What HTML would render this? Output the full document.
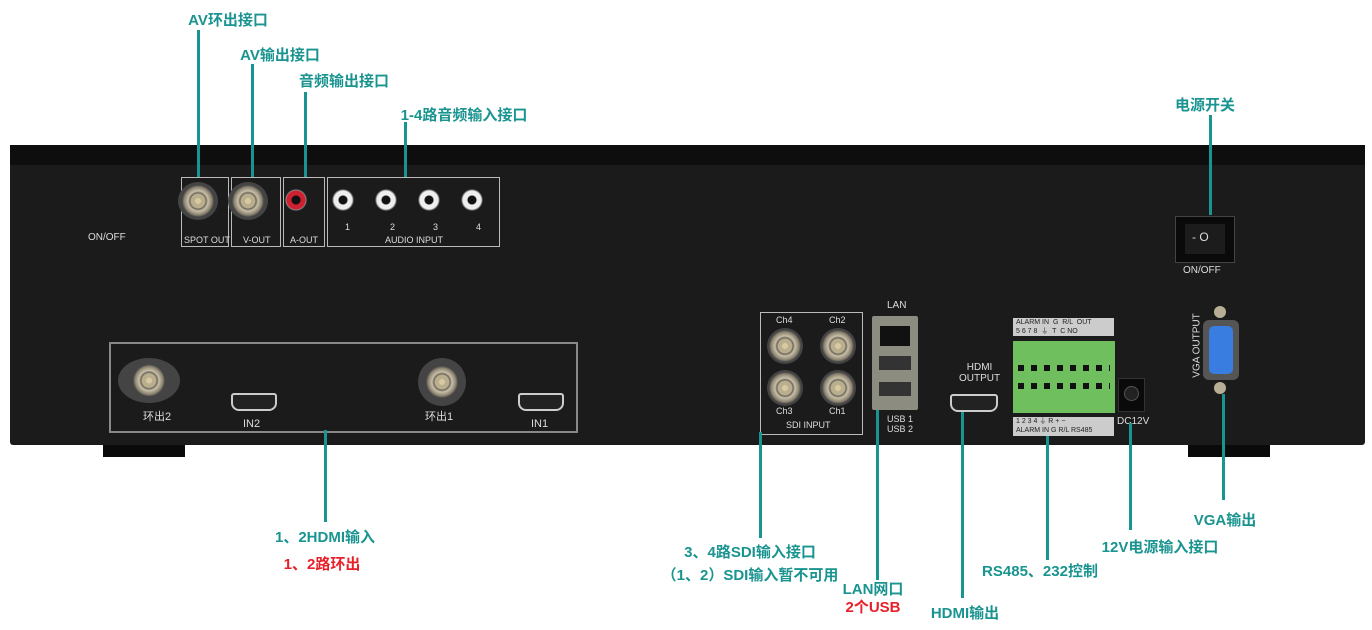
<!DOCTYPE html>
<html><head><meta charset="utf-8"><style>
body{margin:0;width:1372px;height:630px;background:#fff;position:relative;overflow:hidden;font-family:"Liberation Sans","Noto Sans CJK SC",sans-serif}
.a{position:absolute}
.l{position:absolute;background:#1a9490;width:3px}
.t{position:absolute;color:#1a9490;font-weight:bold;font-size:15px;white-space:nowrap;transform:translateX(-50%)}
.r{color:#e8202a}
.w{position:absolute;color:#ddd;font-size:9px;font-family:"Liberation Sans Narrow","Liberation Sans",sans-serif;white-space:nowrap}
.box{position:absolute;border:1.5px solid #bbb}
.bnc{position:absolute;border-radius:50%;background:radial-gradient(circle,#d8c9a0 0 3px,#b9ae8e 3px 7px,#6a6458 8px,#c8bfa8 10px,#8a8270 14px,#444 16px)}
.rca{position:absolute;border-radius:50%;width:22px;height:22px;background:radial-gradient(circle,#111 0 4px,#eee 5px 9px,#888 10px,#222 11px)}
.hdmi{position:absolute;width:42px;height:14px;background:#222;border:2px solid #ccc;border-radius:3px 3px 8px 8px}
</style></head><body>
<!-- device -->
<div class="a" style="left:10px;top:145px;width:1355px;height:300px;background:#1b1b1b;border-radius:3px"></div>
<div class="a" style="left:10px;top:145px;width:1355px;height:20px;background:#0e0e0e"></div>
<div class="a" style="left:103px;top:445px;width:82px;height:12px;background:#0a0a0a"></div>
<div class="a" style="left:1188px;top:445px;width:82px;height:12px;background:#0a0a0a"></div>
<div class="w" style="left:88px;top:232px;font-size:10px">ON/OFF</div>
<!-- top connectors -->
<div class="box" style="left:181px;top:177px;width:46px;height:68px"></div>
<div class="box" style="left:231px;top:177px;width:48px;height:68px"></div>
<div class="box" style="left:283px;top:177px;width:40px;height:68px"></div>
<div class="box" style="left:327px;top:177px;width:171px;height:68px"></div>
<div class="bnc" style="left:178px;top:182px;width:40px;height:38px"></div>
<div class="bnc" style="left:228px;top:182px;width:40px;height:38px"></div>
<div class="rca" style="left:285px;top:189px;background:radial-gradient(circle,#111 0 4px,#d02030 5px 9px,#888 10px,#222 11px)"></div>
<div class="rca" style="left:332px;top:189px"></div>
<div class="rca" style="left:375px;top:189px"></div>
<div class="rca" style="left:418px;top:189px"></div>
<div class="rca" style="left:461px;top:189px"></div>
<div class="w" style="left:184px;top:235px">SPOT OUT</div>
<div class="w" style="left:243px;top:235px">V-OUT</div>
<div class="w" style="left:290px;top:235px">A-OUT</div>
<div class="w" style="left:345px;top:222px">1</div><div class="w" style="left:390px;top:222px">2</div><div class="w" style="left:433px;top:222px">3</div><div class="w" style="left:476px;top:222px">4</div>
<div class="w" style="left:385px;top:235px">AUDIO INPUT</div>
<!-- HDMI input panel -->
<div class="box" style="left:109px;top:342px;width:465px;height:87px;border:2px solid #888"></div>
<div class="bnc" style="left:118px;top:358px;width:62px;height:45px"></div>
<div class="bnc" style="left:418px;top:358px;width:48px;height:48px"></div>
<div class="hdmi" style="left:231px;top:393px"></div>
<div class="hdmi" style="left:518px;top:393px"></div>
<div class="w" style="left:143px;top:408px;font-size:11px">环出2</div>
<div class="w" style="left:243px;top:418px;font-size:11px">IN2</div>
<div class="w" style="left:425px;top:408px;font-size:11px">环出1</div>
<div class="w" style="left:531px;top:418px;font-size:11px">IN1</div>
<!-- SDI -->
<div class="box" style="left:760px;top:312px;width:101px;height:121px"></div>
<div class="bnc" style="left:767px;top:328px;width:36px;height:36px"></div>
<div class="bnc" style="left:820px;top:328px;width:36px;height:36px"></div>
<div class="bnc" style="left:767px;top:370px;width:36px;height:36px"></div>
<div class="bnc" style="left:820px;top:370px;width:36px;height:36px"></div>
<div class="w" style="left:776px;top:315px">Ch4</div><div class="w" style="left:829px;top:315px">Ch2</div>
<div class="w" style="left:776px;top:406px">Ch3</div><div class="w" style="left:829px;top:406px">Ch1</div>
<div class="w" style="left:786px;top:420px">SDI INPUT</div>
<!-- LAN/USB -->
<div class="w" style="left:887px;top:300px;font-size:10px">LAN</div>
<div class="a" style="left:872px;top:316px;width:46px;height:94px;background:#8c8c80;border-radius:2px"></div>
<div class="a" style="left:880px;top:326px;width:30px;height:20px;background:#111"></div>
<div class="a" style="left:879px;top:356px;width:32px;height:14px;background:#333"></div>
<div class="a" style="left:879px;top:382px;width:32px;height:14px;background:#333"></div>
<div class="w" style="left:887px;top:414px">USB 1<br>USB 2</div>
<!-- HDMI out -->
<div class="w" style="left:959px;top:362px;font-size:10px;text-align:center">HDMI<br>OUTPUT</div>
<div class="hdmi" style="left:950px;top:394px;width:44px"></div>
<!-- terminal block -->
<div class="a" style="left:1013px;top:318px;width:101px;height:18px;background:#ccc"></div>
<div class="w" style="left:1016px;top:318px;color:#222;font-size:7px;line-height:9px">ALARM IN &nbsp;G &nbsp;R/L &nbsp;OUT<br>5 6 7 8 &nbsp;⏚ &nbsp;T &nbsp;C NO</div>
<div class="a" style="left:1013px;top:341px;width:102px;height:72px;background:#6fbf5f"></div>
<div class="a" style="left:1018px;top:365px;width:92px;height:6px;background:repeating-linear-gradient(90deg,#111 0 6px,transparent 6px 13px)"></div>
<div class="a" style="left:1018px;top:383px;width:92px;height:6px;background:repeating-linear-gradient(90deg,#111 0 6px,transparent 6px 13px)"></div>
<div class="a" style="left:1013px;top:417px;width:101px;height:19px;background:#ccc"></div>
<div class="w" style="left:1016px;top:417px;color:#222;font-size:7px;line-height:9px">1 2 3 4 ⏚ R + −<br>ALARM IN G R/L RS485</div>
<div class="a" style="left:1118px;top:378px;width:25px;height:32px;background:#0a0a0a;border:1px solid #333"></div>
<div class="a" style="left:1124px;top:386px;width:13px;height:13px;border-radius:50%;background:#222;border:1px solid #555"></div>
<div class="w" style="left:1117px;top:416px;font-size:10px">DC12V</div>
<!-- power switch -->
<div class="a" style="left:1175px;top:216px;width:58px;height:45px;background:#0a0a0a;border:1px solid #444"></div>
<div class="a" style="left:1185px;top:224px;width:40px;height:30px;background:#1c1c1c"></div>
<div class="w" style="left:1192px;top:230px;font-size:12px">- O</div>
<div class="w" style="left:1183px;top:265px;font-size:10px">ON/OFF</div>
<!-- VGA -->
<div class="w" style="left:1165px;top:340px;transform:rotate(-90deg);font-size:10px">VGA OUTPUT</div>
<div class="a" style="left:1214px;top:306px;width:12px;height:12px;border-radius:50%;background:#b8ae95"></div>
<div class="a" style="left:1214px;top:382px;width:12px;height:12px;border-radius:50%;background:#b8ae95"></div>
<div class="a" style="left:1203px;top:320px;width:36px;height:60px;background:#555;border-radius:6px"></div>
<div class="a" style="left:1209px;top:326px;width:24px;height:48px;background:#3a7de0;border-radius:5px"></div>
<!-- leader lines -->
<div class="l" style="left:197px;top:30px;height:147px"></div>
<div class="l" style="left:251px;top:64px;height:113px"></div>
<div class="l" style="left:304px;top:92px;height:85px"></div>
<div class="l" style="left:404px;top:122px;height:55px"></div>
<div class="l" style="left:1209px;top:115px;height:100px"></div>
<div class="l" style="left:324px;top:430px;height:92px"></div>
<div class="l" style="left:759px;top:432px;height:106px"></div>
<div class="l" style="left:876px;top:410px;height:170px"></div>
<div class="l" style="left:961px;top:412px;height:186px"></div>
<div class="l" style="left:1046px;top:436px;height:124px"></div>
<div class="l" style="left:1129px;top:423px;height:107px"></div>
<div class="l" style="left:1222px;top:394px;height:106px"></div>
<!-- labels -->
<div class="t" style="left:228px;top:9px">AV环出接口</div>
<div class="t" style="left:280px;top:44px">AV输出接口</div>
<div class="t" style="left:344px;top:70px">音频输出接口</div>
<div class="t" style="left:464px;top:104px">1-4路音频输入接口</div>
<div class="t" style="left:1205px;top:94px">电源开关</div>
<div class="t" style="left:325px;top:526px">1、2HDMI输入</div>
<div class="t r" style="left:322px;top:553px">1、2路环出</div>
<div class="t" style="left:750px;top:541px">3、4路SDI输入接口</div>
<div class="t" style="left:750px;top:564px">（1、2）SDI输入暂不可用</div>
<div class="t" style="left:873px;top:578px">LAN网口</div>
<div class="t r" style="left:873px;top:596px">2个USB</div>
<div class="t" style="left:965px;top:602px">HDMI输出</div>
<div class="t" style="left:1040px;top:560px">RS485、232控制</div>
<div class="t" style="left:1160px;top:536px">12V电源输入接口</div>
<div class="t" style="left:1225px;top:509px">VGA输出</div>
</body></html>
